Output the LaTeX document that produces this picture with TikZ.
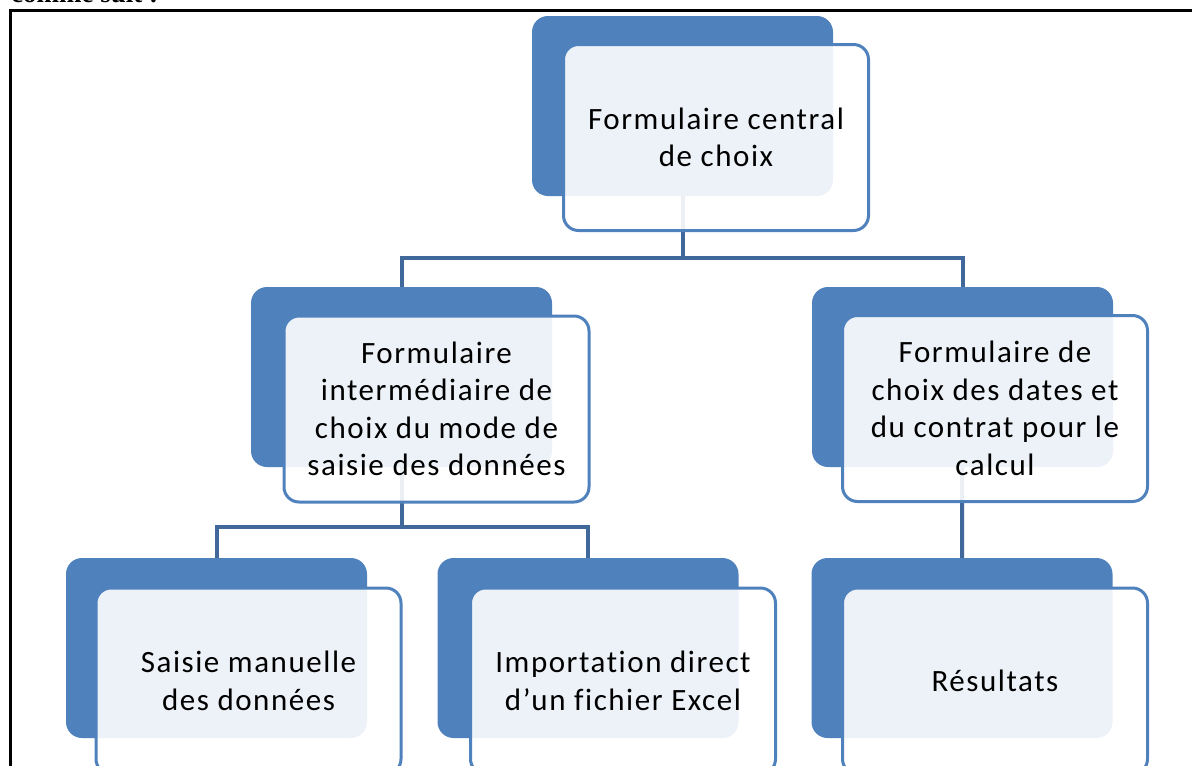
\documentclass[tikz,border=0pt]{standalone}
\usepackage{fontspec}
\setmainfont{Carlito}[Ligatures=CommonOff,LetterSpace=5]
\newfontfamily\headfont{Liberation Serif}
\usetikzlibrary{backgrounds}
\definecolor{boxblue}{HTML}{4F81BD}
\definecolor{linkblue}{RGB}{65,104,155}
\tikzset{
  backbox/.style={rectangle,rounded corners=16,fill=boxblue,minimum width=301,minimum height=180,inner sep=0},
  frontbox/.style={rectangle,rounded corners=15,draw=boxblue,line width=3,fill=white,fill opacity=0.9,text opacity=1,
    minimum width=305,minimum height=186,inner sep=0,align=center,font=\fontsize{31}{37.5}\selectfont},
  link/.style={draw=linkblue,line width=4}
}
\begin{document}
\begin{tikzpicture}[x=1pt,y=-1pt]
      \useasboundingbox (0,0) rectangle (1192,766);
      \node[anchor=base west,inner sep=0,font=\headfont\bfseries\fontsize{27}{30}\selectfont] (head) at (11,2) {comme suit :};
      \draw[line width=3] (10,790) -- (10,10.5) -- (1210,10.5);
      % first level
      \node[backbox] (central) at (682.5,106) {};
      \node[frontbox] (central-t) at ([shift={(33.5,31.5)}]central.center) {Formulaire central\\de choix};
      % second level
      \node[backbox] (inter) at (401.5,377) {};
      \node[frontbox] (inter-t) at ([shift={(35,32)}]inter.center) {Formulaire\\intermédiaire de\\choix du mode de\\saisie des données};
      \node[backbox] (dates) at (962.5,377) {};
      \node[frontbox] (dates-t) at ([shift={(32.5,31.5)}]dates.center) {Formulaire de\\choix des dates et\\du contrat pour le\\calcul};
      % third level
      \node[backbox] (manuel) at (216.5,648) {};
      \node[frontbox] (manuel-t) at ([shift={(32,33)}]manuel.center) {Saisie manuelle\\des données};
      \node[backbox] (excel) at (588,648) {};
      \node[frontbox] (excel-t) at ([shift={(35,33)}]excel.center) {Importation direct\\d’un fichier Excel};
      \node[backbox] (result) at (962,648) {};
      \node[frontbox] (result-t) at ([shift={(33,33)}]result.center) {Résultats};
      \begin{scope}[on background layer]
        \draw[link] (central.center) -- ++(0,152) -| (inter.north);
        \draw[link] (central.center) -- ++(0,152) -| (dates.north);
        \draw[link] (inter.center) -- ++(0,150) -| (manuel.north);
        \draw[link] (inter.center) -- ++(0,150) -| (excel.north);
        \draw[link] (dates.center) -- (result.north);
      \end{scope}
    \end{tikzpicture}
\end{document}
